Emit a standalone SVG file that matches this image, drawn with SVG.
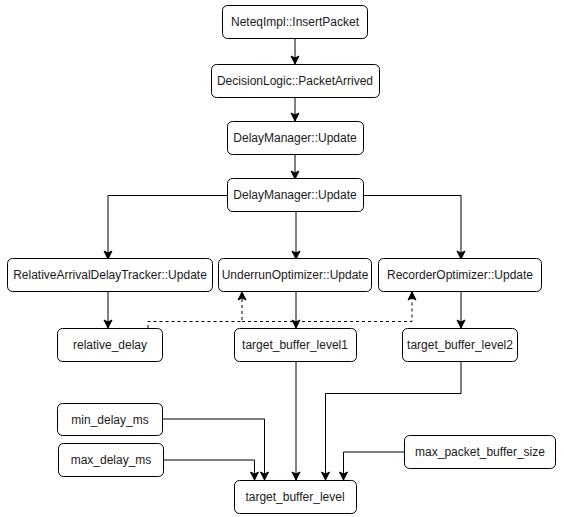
<svg xmlns="http://www.w3.org/2000/svg" width="564" height="517" viewBox="0 0 564 517">
<style>
  .node rect { fill: #ffffff; stroke: #000000; stroke-width: 1; }
  .node text { font-family: "Liberation Sans", Arial, sans-serif; font-size: 12px; fill: #1a1a1a; text-anchor: middle; dominant-baseline: central; }
  .edge { fill: none; stroke: #000000; stroke-width: 1; }
  .dash { stroke-dasharray: 3 3; }
</style>
<defs>
  <marker id="arrow" markerUnits="userSpaceOnUse" markerWidth="10" markerHeight="10" viewBox="0 0 10 10" refX="9" refY="5" orient="auto">
    <path d="M1,1 L9,5 L1,9 L3,5 Z" fill="#000000" stroke="#000000" stroke-width="1"/>
  </marker>
</defs>
<rect x="0" y="0" width="564" height="517" fill="#ffffff"/>
<g id="connectors">
  <path class="edge" d="M295,38 V64" marker-end="url(#arrow)"/>
  <path class="edge" d="M295,97 V121" marker-end="url(#arrow)"/>
  <path class="edge" d="M295,154 V179" marker-end="url(#arrow)"/>
  <path class="edge" d="M227,195.5 H108 V259" marker-end="url(#arrow)"/>
  <path class="edge" d="M296,212 V259" marker-end="url(#arrow)"/>
  <path class="edge" d="M363,195.5 H461 V259" marker-end="url(#arrow)"/>
  <path class="edge" d="M108,292 V328" marker-end="url(#arrow)"/>
  <path class="edge" d="M296,292 V328" marker-end="url(#arrow)"/>
  <path class="edge" d="M461,292 V328" marker-end="url(#arrow)"/>
  <path class="edge dash" d="M148,328 V321.5 H242 V292" marker-end="url(#arrow)"/>
  <path class="edge dash" d="M242,321.5 H412 V292" marker-end="url(#arrow)"/>
  <path class="edge" d="M296,361 V480" marker-end="url(#arrow)"/>
  <path class="edge" d="M461,361 V393.5 H325.5 V480" marker-end="url(#arrow)"/>
  <path class="edge" d="M162,419 H264.5 V480" marker-end="url(#arrow)"/>
  <path class="edge" d="M163,460 H254.5 V480" marker-end="url(#arrow)"/>
  <path class="edge" d="M404,452 H343.5 V480" marker-end="url(#arrow)"/>
</g>
<g id="n1" class="node"><rect x="222.5" y="5.5" width="145" height="33" rx="5"/><text x="295" y="22">NeteqImpl::InsertPacket</text></g>
<g id="n2" class="node"><rect x="211.5" y="64.5" width="168" height="33" rx="5"/><text x="295" y="81">DecisionLogic::PacketArrived</text></g>
<g id="n3" class="node"><rect x="227.5" y="121.5" width="136" height="33" rx="5"/><text x="295" y="138">DelayManager::Update</text></g>
<g id="n4" class="node"><rect x="227.5" y="178.5" width="136" height="33" rx="5"/><text x="295" y="195">DelayManager::Update</text></g>
<g id="n5" class="node"><rect x="7.5" y="258.5" width="205" height="33" rx="5"/><text x="110" y="275">RelativeArrivalDelayTracker::Update</text></g>
<g id="n6" class="node"><rect x="218.5" y="258.5" width="153" height="33" rx="5"/><text x="295" y="275">UnderrunOptimizer::Update</text></g>
<g id="n7" class="node"><rect x="378.5" y="258.5" width="163" height="33" rx="5"/><text x="460" y="275">RecorderOptimizer::Update</text></g>
<g id="n8" class="node"><rect x="57.5" y="328.5" width="105" height="33" rx="5"/><text x="110" y="345">relative_delay</text></g>
<g id="n9" class="node"><rect x="234.5" y="328.5" width="122" height="33" rx="5"/><text x="295" y="345">target_buffer_level1</text></g>
<g id="n10" class="node"><rect x="402.5" y="328.5" width="115" height="33" rx="5"/><text x="460" y="345">target_buffer_level2</text></g>
<g id="n11" class="node"><rect x="57.5" y="403.5" width="105" height="32" rx="5"/><text x="110" y="419.5">min_delay_ms</text></g>
<g id="n12" class="node"><rect x="58.5" y="443.5" width="105" height="33" rx="5"/><text x="111" y="460">max_delay_ms</text></g>
<g id="n13" class="node"><rect x="404.5" y="435.5" width="151" height="33" rx="5"/><text x="480" y="452">max_packet_buffer_size</text></g>
<g id="n14" class="node"><rect x="234.5" y="480.5" width="122" height="33" rx="5"/><text x="295" y="497">target_buffer_level</text></g>
</svg>
